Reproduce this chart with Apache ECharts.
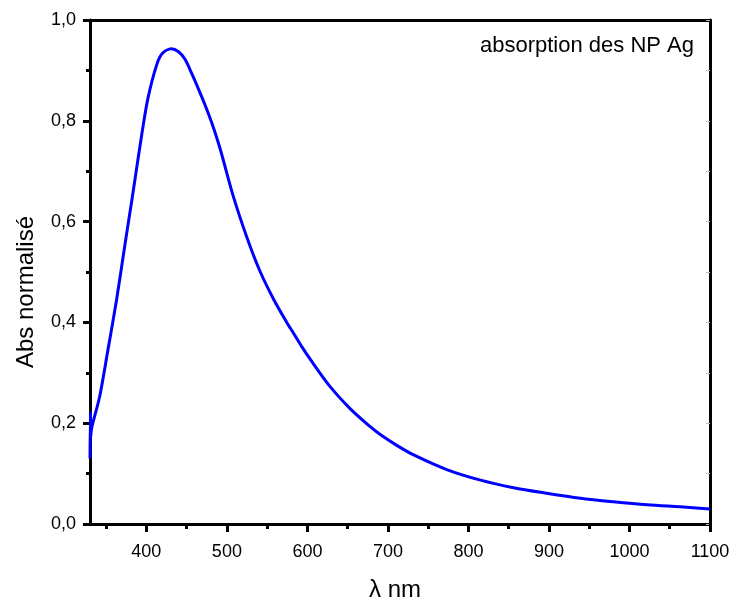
<!DOCTYPE html>
<html>
<head>
<meta charset="utf-8">
<script src="https://cdn.jsdelivr.net/npm/echarts@6/dist/echarts.min.js"></script>
<style>html,body{margin:0;padding:0;background:#fff}#c{width:731px;height:600px}</style>
</head>
<body>
<div id="c"></div>
<script>
const wavelengths = [330, 330.5, 331, 332, 342, 352, 363, 373, 382, 386, 394, 402, 413, 420, 431, 440, 448, 456, 465, 473, 481, 491.5, 508, 525, 541, 558, 574, 583, 593, 603, 628, 653, 678, 690, 711, 732, 773, 815, 856, 897, 939, 980, 1022, 1063, 1100];
const absValues   = [0.13, 0.222, 0.174, 0.19, 0.253, 0.343, 0.445, 0.550, 0.643, 0.685, 0.770, 0.845, 0.912, 0.934, 0.943, 0.937, 0.922, 0.895, 0.862, 0.831, 0.797, 0.745, 0.650, 0.568, 0.502, 0.446, 0.401, 0.378, 0.352, 0.328, 0.273, 0.229, 0.193, 0.178, 0.156, 0.137, 0.108, 0.087, 0.072, 0.061, 0.051, 0.044, 0.038, 0.034, 0.030];
const xMajorTicks = [400, 500, 600, 700, 800, 900, 1000, 1100];
const xMinorTicks = [350, 450, 550, 650, 750, 850, 950, 1050];
const yTicks = [0, 0.2, 0.4, 0.6, 0.8, 1.0];
const titleText = 'absorption des NP Ag';
const xName = 'λ nm';
const yName = 'Abs normalisé';

const FONT = '"Liberation Sans", Arial, sans-serif';
const chart = echarts.init(document.getElementById('c'));
const data = wavelengths.map((w, i) => [w, absValues[i]]);

chart.setOption({
  animation: false,
  backgroundColor: '#fff',
  title: {
    text: titleText, right: 32, top: 30,
    textStyle: { fontFamily: FONT, fontSize: 22, fontWeight: 'normal', color: '#000' }
  },
  grid: { left: 90, right: 21, top: 20, bottom: 76, outerBoundsMode: 'none', containLabel: false },
  xAxis: [
    {
      type: 'value', min: 330, max: 1100, position: 'bottom',
      name: xName, nameLocation: 'middle', nameGap: 54,
      nameTextStyle: { fontFamily: FONT, fontSize: 24, color: '#000', padding: [0, 10, 0, 0] },
      axisLine: { onZero: false, lineStyle: { color: '#000', width: 3 } },
      axisTick: { customValues: xMajorTicks, length: 8, lineStyle: { color: '#000', width: 3 } },
      axisLabel: { customValues: xMajorTicks, margin: 19, fontFamily: FONT, fontSize: 18, color: '#000',
        formatter: v => String(v) },
      splitLine: { show: false }
    },
    {
      type: 'value', min: 330, max: 1100, position: 'bottom',
      axisLine: { show: false },
      axisTick: { customValues: xMinorTicks, length: 5, lineStyle: { color: '#000', width: 3 } },
      axisLabel: { show: false },
      splitLine: { show: false }
    },
    {
      type: 'value', min: 330, max: 1100, position: 'top',
      axisLine: { onZero: false, lineStyle: { color: '#000', width: 3 } },
      axisTick: { show: false }, axisLabel: { show: false }, splitLine: { show: false }
    }
  ],
  yAxis: [
    {
      type: 'value', min: 0, max: 1, interval: 0.2, position: 'left',
      name: yName, nameLocation: 'middle', nameGap: 52, nameRotate: 90,
      nameTextStyle: { fontFamily: FONT, fontSize: 24, color: '#000', padding: [0, 40, 0, 0] },
      axisLine: { onZero: false, lineStyle: { color: '#000', width: 3 } },
      axisTick: { length: 7, lineStyle: { color: '#000', width: 3 } },
      minorTick: { show: true, splitNumber: 2, length: 4, lineStyle: { color: '#000', width: 3 } },
      axisLabel: { margin: 14, fontFamily: FONT, fontSize: 18, color: '#000',
        customValues: yTicks,
        formatter: v => v.toFixed(1).replace('.', ',') },
      splitLine: { show: false }
    },
    {
      type: 'value', min: 0, max: 1, interval: 0.1, position: 'right',
      axisLine: { onZero: false, lineStyle: { color: '#000', width: 3 } },
      axisTick: { inside: true, length: 4, lineStyle: { color: '#bbb', width: 1 } },
      axisLabel: { show: false }, splitLine: { show: false }
    }
  ],
  series: [{
    type: 'line', data: data, xAxisIndex: 0, yAxisIndex: 0,
    showSymbol: false, smooth: 0.3,
    lineStyle: { color: '#0000ff', width: 3 }
  }]
});
</script>
</body>
</html>
